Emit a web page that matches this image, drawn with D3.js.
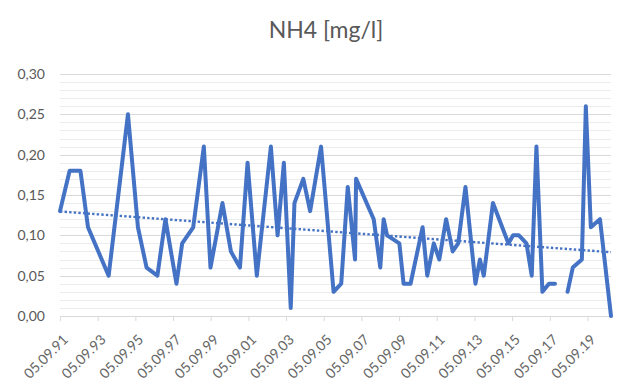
<!DOCTYPE html>
<html><head><meta charset="utf-8">
<script src="https://cdn.jsdelivr.net/npm/d3@7"></script>
<style>body{margin:0;background:#fff;}svg{display:block;}</style>
</head><body>
<svg id="chart" width="641" height="392"></svg>
<script>
const title = "NH4 [mg/l]";
const dates = ["1991-09-05","1992-03-10","1992-10-05","1993-03-01","1994-04-05","1995-04-15","1995-10-25","1996-04-10","1996-11-05","1997-04-10","1997-11-10","1998-03-01","1998-10-01","1999-04-25","1999-09-01","2000-04-20","2000-10-01","2001-03-25","2001-08-20","2002-02-15","2002-11-15","2003-03-25","2003-07-25","2003-12-05","2004-02-15","2004-08-05","2004-12-15","2005-07-15","2006-03-15","2006-08-10","2006-12-15","2007-05-05","2007-05-25","2008-05-01","2008-09-05","2008-11-10","2009-01-15","2009-09-10","2009-12-01","2010-04-15","2010-12-05","2011-03-05","2011-07-10","2011-10-25","2012-03-05","2012-07-10","2012-10-25","2013-03-15","2013-09-25","2013-12-20","2014-03-05","2014-08-30","2015-06-25","2015-09-25","2016-01-15","2016-06-10","2016-09-20","2016-12-20","2017-04-15","2017-08-20","2017-12-15","2018-04-15","2018-08-15","2018-11-25","2019-05-20","2019-08-05","2019-11-10","2020-05-05","2020-12-05"];
const values = [0.13,0.18,0.18,0.11,0.05,0.25,0.11,0.06,0.05,0.12,0.04,0.09,0.11,0.21,0.06,0.14,0.08,0.06,0.19,0.05,0.21,0.10,0.19,0.01,0.14,0.17,0.13,0.21,0.03,0.04,0.16,0.07,0.17,0.12,0.06,0.12,0.10,0.09,0.04,0.04,0.11,0.05,0.09,0.07,0.12,0.08,0.09,0.16,0.04,0.07,0.05,0.14,0.09,0.10,0.10,0.09,0.05,0.21,0.03,0.04,0.04,null,0.03,0.06,0.07,0.26,0.11,0.12,0.00];
const xTickLabels = ["05.09.91","05.09.93","05.09.95","05.09.97","05.09.99","05.09.01","05.09.03","05.09.05","05.09.07","05.09.09","05.09.11","05.09.13","05.09.15","05.09.17","05.09.19"];
const yTicks = [0,0.05,0.10,0.15,0.20,0.25,0.30];

const parseD = d3.timeParse("%Y-%m-%d");
const parseT = d3.timeParse("%d.%m.%y");
const data = dates.map((d,i)=>({date:parseD(d), v:values[i]}));
const tickDates = xTickLabels.map(parseT);

const svg = d3.select("#chart");
const L=60, R=611, T=74, B=316;
const x = d3.scaleTime().domain(d3.extent(data,d=>d.date)).range([L,R]);
const y = d3.scaleLinear().domain([0,0.30]).range([B,T]);
const font = "Lato, 'Open Sans', sans-serif";

// minor gridlines
svg.append("g").selectAll("line").data(d3.range(0,31).map(i=>i/100).filter(v=>Math.round(v*100)%5!==0))
  .join("line").attr("x1",L).attr("x2",R).attr("y1",d=>Math.round(y(d))+0.5).attr("y2",d=>Math.round(y(d))+0.5)
  .attr("stroke","#ececec").attr("stroke-width",1);
// major gridlines
svg.append("g").selectAll("line").data(yTicks.filter(v=>v>0))
  .join("line").attr("x1",L).attr("x2",R).attr("y1",d=>Math.round(y(d))+0.5).attr("y2",d=>Math.round(y(d))+0.5)
  .attr("stroke","#d9d9d9").attr("stroke-width",1);

// y axis labels
const fmt = v => d3.format(".2f")(v).replace(".",",");
svg.append("g").call(d3.axisLeft(y).tickValues(yTicks).tickFormat(fmt).tickSize(0).tickPadding(15))
  .attr("transform",`translate(${L},0)`)
  .call(g=>g.select(".domain").remove())
  .call(g=>g.selectAll("text").attr("fill","#595959").style("font-family",font).style("font-size","14px"));

// x axis
const xg = svg.append("g").attr("transform",`translate(0,${B})`)
  .call(d3.axisBottom(x).tickValues(tickDates).tickFormat((d,i)=>xTickLabels[i]).tickSize(5).tickSizeOuter(0));
xg.select(".domain").attr("stroke","#d9d9d9");
xg.selectAll(".tick line").attr("stroke","#d9d9d9");
xg.selectAll("text").attr("fill","#666666").style("font-family",font).style("font-size","14px")
  .attr("text-anchor","end").attr("transform","translate(5,21) rotate(-45)").attr("dy","0.35em").attr("y",0).attr("x",0);

// trend line (least squares over dates)
const pts = data.filter(d=>d.v!==null);
const reg = (()=>{const xs=pts.map(d=>+d.date), ys=pts.map(d=>d.v);
  const mx=d3.mean(xs), my=d3.mean(ys);
  const b=d3.sum(xs.map((xv,i)=>(xv-mx)*(ys[i]-my)))/d3.sum(xs.map(xv=>(xv-mx)**2));
  return {a:my-b*mx,b};})();
const dom = x.domain();
svg.append("line").attr("x1",x(dom[0])).attr("x2",x(dom[1]))
  .attr("y1",y(reg.a+reg.b*(+dom[0]))).attr("y2",y(reg.a+reg.b*(+dom[1])))
  .attr("stroke","#4472C4").attr("stroke-width",2.4).attr("stroke-dasharray","2.4,2.2");

// data line
const line = d3.line().defined(d=>d.v!==null).x(d=>x(d.date)).y(d=>y(d.v));
svg.append("path").datum(data).attr("d",line).attr("fill","none")
  .attr("stroke","#4472C4").attr("stroke-width",4).attr("stroke-linejoin","round").attr("stroke-linecap","round");

// title
svg.append("text").attr("x",326).attr("y",38).attr("text-anchor","middle")
  .attr("fill","#595959").style("font-family",font).style("font-size","23px").text(title);
</script>
</body></html>
